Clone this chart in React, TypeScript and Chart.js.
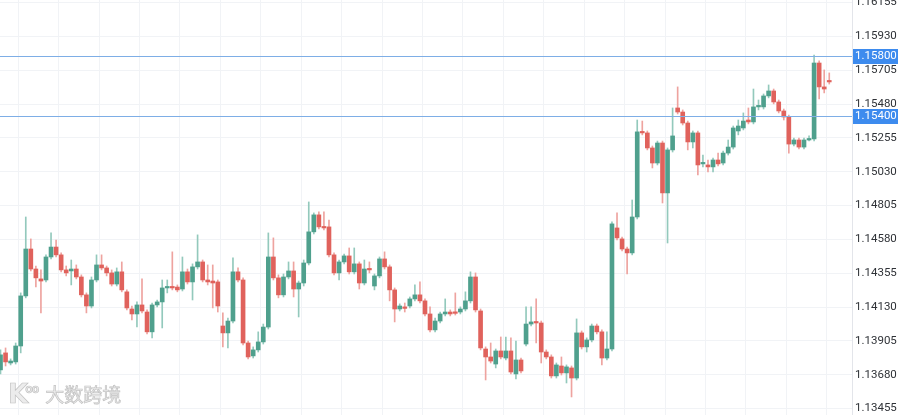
import React, { useEffect, useRef } from "react";
import { Chart, registerables } from "chart.js";

Chart.register(...registerables);

// EUR/USD-like candles (oldest -> newest)
const OPEN = [
  1.13712, 1.13825, 1.13758, 1.13765, 1.13871, 1.14204, 1.14516, 1.14383, 1.14317, 1.14310,
  1.14463, 1.14529, 1.14477, 1.14377, 1.14370, 1.14383, 1.14330, 1.14211, 1.14137, 1.14310,
  1.14410, 1.14390, 1.14357, 1.14283, 1.14364, 1.14231, 1.14117, 1.14084, 1.14144, 1.14097,
  1.13965, 1.14144, 1.14164, 1.14257, 1.14263, 1.14263, 1.14250, 1.14364, 1.14297, 1.14397,
  1.14430, 1.14310, 1.14303, 1.14297, 1.14004, 1.13958, 1.14037, 1.14364, 1.14310, 1.13891,
  1.13805, 1.13845, 1.13898, 1.13997, 1.14463, 1.14324, 1.14211, 1.14330, 1.14370, 1.14250,
  1.14290, 1.14423, 1.14630, 1.14743, 1.14663, 1.14663, 1.14477, 1.14357, 1.14430, 1.14470,
  1.14364, 1.14417, 1.14290, 1.14383, 1.14270, 1.14337, 1.14450, 1.14397, 1.14244, 1.14117,
  1.14124, 1.14137, 1.14184, 1.14211, 1.14171, 1.14084, 1.13978, 1.14037, 1.14084, 1.14097,
  1.14091, 1.14097, 1.14117, 1.14171, 1.14330, 1.14104, 1.13851, 1.13798, 1.13751, 1.13838,
  1.13791, 1.13838, 1.13685, 1.13778, 1.13884, 1.14017, 1.14031, 1.14024, 1.13831, 1.13798,
  1.13672, 1.13738, 1.13692, 1.13725, 1.13658, 1.13958, 1.13865, 1.13911, 1.14004, 1.13965,
  1.13791, 1.13851, 1.14656, 1.14583, 1.14516, 1.14490, 1.14729, 1.15295, 1.15288, 1.15188,
  1.15088, 1.15221, 1.14889, 1.15175, 1.15454, 1.15427, 1.15354, 1.15228, 1.15288, 1.15082,
  1.15075, 1.15062, 1.15108, 1.15088, 1.15154, 1.15194, 1.15301, 1.15321, 1.15374, 1.15361,
  1.15461, 1.15461, 1.15534, 1.15567, 1.15494, 1.15434, 1.15394, 1.15214, 1.15241, 1.15194,
  1.15241, 1.15248, 1.15753, 1.15594, 1.15633,
];

const HIGH = [
  1.13845, 1.13858, 1.13785, 1.13891, 1.14224, 1.14729, 1.14583, 1.14403, 1.14377, 1.14477,
  1.14623, 1.14576, 1.14490, 1.14403, 1.14443, 1.14410, 1.14344, 1.14224, 1.14330, 1.14477,
  1.14477, 1.14403, 1.14377, 1.14390, 1.14430, 1.14244, 1.14137, 1.14164, 1.14317, 1.14111,
  1.14157, 1.14177, 1.14310, 1.14310, 1.14497, 1.14277, 1.14463, 1.14383, 1.14417, 1.14610,
  1.14443, 1.14410, 1.14410, 1.14310, 1.14091, 1.14057, 1.14457, 1.14390, 1.14324, 1.13904,
  1.13865, 1.13965, 1.14017, 1.14623, 1.14590, 1.14344, 1.14350, 1.14430, 1.14430, 1.14303,
  1.14443, 1.14829, 1.14756, 1.14763, 1.14763, 1.14709, 1.14490, 1.14443, 1.14483, 1.14523,
  1.14523, 1.14430, 1.14443, 1.14430, 1.14350, 1.14463, 1.14497, 1.14410, 1.14257, 1.14151,
  1.14157, 1.14197, 1.14277, 1.14297, 1.14184, 1.14131, 1.14057, 1.14097, 1.14184, 1.14111,
  1.14224, 1.14131, 1.14231, 1.14364, 1.14357, 1.14117, 1.13865, 1.13891, 1.13851, 1.13931,
  1.13931, 1.13925, 1.13904, 1.13791, 1.14131, 1.14131, 1.14184, 1.14037, 1.13845, 1.13812,
  1.13758, 1.13798, 1.13745, 1.13738, 1.14051, 1.13971, 1.13925, 1.14017, 1.14017, 1.13978,
  1.13965, 1.14696, 1.14756, 1.14596, 1.14529, 1.14842, 1.15374, 1.15367, 1.15301, 1.15201,
  1.15234, 1.15234, 1.15188, 1.15454, 1.15594, 1.15441, 1.15367, 1.15301, 1.15301, 1.15141,
  1.15108, 1.15121, 1.15154, 1.15168, 1.15241, 1.15334, 1.15374, 1.15421, 1.15454, 1.15580,
  1.15507, 1.15547, 1.15607, 1.15580, 1.15507, 1.15447, 1.15407, 1.15254, 1.15254, 1.15254,
  1.15268, 1.15806, 1.15767, 1.15707, 1.15687,
];

const LOW = [
  1.13685, 1.13738, 1.13745, 1.13751, 1.13825, 1.14191, 1.14370, 1.14263, 1.14091, 1.14297,
  1.14450, 1.14463, 1.14364, 1.14337, 1.14277, 1.14317, 1.14197, 1.14091, 1.14124, 1.14297,
  1.14377, 1.14337, 1.14270, 1.14270, 1.14231, 1.14111, 1.14044, 1.13997, 1.14091, 1.13951,
  1.13925, 1.14131, 1.13991, 1.14224, 1.14244, 1.14231, 1.14237, 1.14283, 1.14177, 1.14383,
  1.14297, 1.14277, 1.14124, 1.14097, 1.13865, 1.13858, 1.14024, 1.14297, 1.13878, 1.13785,
  1.13791, 1.13831, 1.13884, 1.13984, 1.14310, 1.14191, 1.14197, 1.14317, 1.14197, 1.14064,
  1.14270, 1.14410, 1.14616, 1.14650, 1.14643, 1.14463, 1.14344, 1.14310, 1.14417, 1.14350,
  1.14350, 1.14250, 1.14277, 1.14357, 1.14244, 1.14324, 1.14383, 1.14171, 1.14031, 1.14104,
  1.14097, 1.14124, 1.14171, 1.14157, 1.14071, 1.13965, 1.13965, 1.14024, 1.14071, 1.14071,
  1.14077, 1.14084, 1.14104, 1.14157, 1.14097, 1.13845, 1.13645, 1.13758, 1.13725, 1.13785,
  1.13778, 1.13685, 1.13652, 1.13692, 1.13871, 1.14004, 1.13891, 1.13758, 1.13785, 1.13658,
  1.13658, 1.13678, 1.13625, 1.13532, 1.13645, 1.13851, 1.13831, 1.13898, 1.13951, 1.13745,
  1.13778, 1.13838, 1.14576, 1.14503, 1.14350, 1.14477, 1.14716, 1.15275, 1.15175, 1.15055,
  1.15075, 1.14822, 1.14556, 1.15161, 1.15414, 1.15341, 1.15175, 1.15188, 1.15009, 1.15062,
  1.15028, 1.15028, 1.15068, 1.15075, 1.15141, 1.15181, 1.15275, 1.15308, 1.15348, 1.15348,
  1.15441, 1.15447, 1.15521, 1.15481, 1.15421, 1.15374, 1.15154, 1.15201, 1.15181, 1.15181,
  1.15234, 1.15234, 1.15514, 1.15554, 1.15613,
];

const CLOSE = [
  1.13812, 1.13765, 1.13771, 1.13871, 1.14204, 1.14516, 1.14383, 1.14324, 1.14303, 1.14463,
  1.14529, 1.14477, 1.14377, 1.14357, 1.14383, 1.14330, 1.14211, 1.14137, 1.14310, 1.14410,
  1.14390, 1.14357, 1.14283, 1.14364, 1.14244, 1.14124, 1.14084, 1.14144, 1.14104, 1.13965,
  1.14144, 1.14164, 1.14257, 1.14263, 1.14257, 1.14244, 1.14364, 1.14297, 1.14397, 1.14430,
  1.14310, 1.14297, 1.14290, 1.14137, 1.13958, 1.14037, 1.14364, 1.14310, 1.13891, 1.13798,
  1.13845, 1.13898, 1.13997, 1.14463, 1.14324, 1.14211, 1.14330, 1.14370, 1.14250, 1.14290,
  1.14423, 1.14630, 1.14743, 1.14663, 1.14656, 1.14477, 1.14357, 1.14430, 1.14470, 1.14364,
  1.14417, 1.14290, 1.14383, 1.14377, 1.14337, 1.14450, 1.14397, 1.14244, 1.14117, 1.14137,
  1.14121, 1.14184, 1.14211, 1.14171, 1.14084, 1.13978, 1.14037, 1.14084, 1.14097, 1.14084,
  1.14088, 1.14117, 1.14171, 1.14330, 1.14111, 1.13858, 1.13798, 1.13771, 1.13838, 1.13798,
  1.13838, 1.13698, 1.13778, 1.13705, 1.14017, 1.14031, 1.14024, 1.13831, 1.13798, 1.13672,
  1.13745, 1.13692, 1.13732, 1.13658, 1.13958, 1.13865, 1.13911, 1.14004, 1.13965, 1.13791,
  1.13851, 1.14683, 1.14590, 1.14516, 1.14490, 1.14729, 1.15295, 1.15288, 1.15188, 1.15088,
  1.15221, 1.14889, 1.15175, 1.15268, 1.15427, 1.15354, 1.15228, 1.15288, 1.15075, 1.15088,
  1.15062, 1.15108, 1.15082, 1.15154, 1.15194, 1.15321, 1.15334, 1.15367, 1.15361, 1.15461,
  1.15467, 1.15534, 1.15567, 1.15494, 1.15434, 1.15394, 1.15214, 1.15241, 1.15194, 1.15241,
  1.15248, 1.15753, 1.15594, 1.15580, 1.15627,
];

const Y_TICKS = [
  1.16155, 1.1593, 1.15705, 1.1548, 1.15255, 1.1503, 1.14805,
  1.1458, 1.14355, 1.1413, 1.13905, 1.1368, 1.13455,
];

const X_GRID = [
  3.5, 11.5, 19.5, 27.5, 35.5, 43.5, 51.5, 59.5, 67.5, 75.5, 83.5,
  91.5, 99.5, 107.5, 115.5, 123.5, 131.5, 139.5, 147.5, 155.5, 163.5,
];

const PRICE_LINES = [1.158, 1.154];

const UP = "#4fa08d";
const DOWN = "#e0625c";
const UP_WICK = "#93c9bc";
const DOWN_WICK = "#eea39f";
const LINE_BLUE = "#7eaee6";
const BOX_BLUE = "#3d8bee";
const FONT = "Roboto, 'Liberation Sans', sans-serif";

const priceLinePlugin = {
  id: "priceLines",
  afterDatasetsDraw(chart: any) {
    const { ctx, chartArea, scales } = chart;
    const y = scales.y;
    ctx.save();
    PRICE_LINES.forEach((v) => {
      const py = Math.round(y.getPixelForValue(v)) + 0.5;
      ctx.strokeStyle = LINE_BLUE;
      ctx.lineWidth = 1;
      ctx.beginPath();
      ctx.moveTo(chartArea.left, py);
      ctx.lineTo(chartArea.right, py);
      ctx.stroke();
    });
    ctx.restore();
  },
  afterDraw(chart: any) {
    const { ctx, chartArea, scales } = chart;
    const y = scales.y;
    ctx.save();
    PRICE_LINES.forEach((v) => {
      const py = Math.round(y.getPixelForValue(v));
      ctx.fillStyle = BOX_BLUE;
      ctx.fillRect(chartArea.right + 1, py - 7, 45, 15);
      ctx.fillStyle = "#ffffff";
      ctx.font = `11.5px ${FONT}`;
      ctx.textBaseline = "middle";
      ctx.textAlign = "left";
      ctx.fillText(v.toFixed(5), chartArea.right + 3, py + 0.5);
    });
    ctx.restore();
  },
};

export default function App() {
  const canvasRef = useRef<HTMLCanvasElement | null>(null);

  useEffect(() => {
    document.body.style.margin = "0";
    const canvas = canvasRef.current;
    if (!canvas) return;
    const idx = OPEN.map((_, i) => i);
    const up = idx.map((i) => CLOSE[i] >= OPEN[i]);

    const chart = new Chart(canvas, {
      type: "bar",
      data: {
        datasets: [
          {
            label: "wick",
            data: idx.map((i) => ({ x: i, y: [LOW[i], HIGH[i]] })) as any,
            backgroundColor: idx.map((i) => (up[i] ? UP_WICK : DOWN_WICK)),
            barThickness: 1,
            grouped: false,
            minBarLength: 1,
            borderSkipped: false,
            order: 2,
          } as any,
          {
            label: "body",
            data: idx.map((i) => ({ x: i, y: [OPEN[i], CLOSE[i]] })) as any,
            backgroundColor: idx.map((i) => (up[i] ? UP : DOWN)),
            barThickness: 4,
            grouped: false,
            minBarLength: 1.5,
            borderSkipped: false,
            order: 1,
          } as any,
        ],
      },
      options: {
        animation: false,
        responsive: true,
        maintainAspectRatio: false,
        events: [],
        layout: { padding: 0 },
        plugins: {
          legend: { display: false },
          tooltip: { enabled: false },
        },
        scales: {
          x: {
            type: "linear",
            min: -0.1,
            max: 168.5,
            offset: false,
            grid: { color: "#f1f3f6", drawTicks: false, offset: false },
            border: { display: false },
            ticks: { display: false },
            afterBuildTicks: (axis: any) => {
              axis.ticks = X_GRID.map((v) => ({ value: v }));
            },
            afterFit: (s: any) => {
              s.height = 0;
              s.paddingLeft = 0;
              s.paddingRight = 0;
              s.paddingTop = 0;
              s.paddingBottom = 0;
            },
          },
          y: {
            type: "linear",
            position: "right",
            min: 1.13412,
            max: 1.16172,
            grid: { color: "#f1f3f6", drawTicks: false },
            border: { display: true, color: "#e3e5ea" },
            ticks: {
              padding: 3,
              color: "#2f3237",
              font: { family: FONT, size: 11.5 },
              autoSkip: false,
              callback: (v: any) => Number(v).toFixed(5),
            },
            afterBuildTicks: (axis: any) => {
              axis.ticks = Y_TICKS.map((v) => ({ value: v }));
            },
            afterFit: (s: any) => {
              s.width = 48;
              s.paddingTop = 0;
              s.paddingBottom = 0;
              s.paddingLeft = 0;
              s.paddingRight = 0;
            },
          },
        } as any,
      },
      plugins: [priceLinePlugin],
    });

    return () => chart.destroy();
  }, []);

  return (
    <div style={{ position: "relative", width: 900, height: 415, background: "#fff", overflow: "hidden" }}>
      <canvas ref={canvasRef} />
      <div
        style={{
          position: "absolute",
          left: 8,
          top: 382,
          display: "flex",
          alignItems: "center",
          color: "#ececec",
          WebkitTextStroke: "0.7px #c3c3c3",
          fontFamily: "'Noto Sans CJK SC', sans-serif",
          pointerEvents: "none",
          whiteSpace: "nowrap",
        }}
      >
        <span style={{ fontSize: 26, fontWeight: 700, lineHeight: "24px", fontFamily: "'DejaVu Sans', sans-serif" }}>K</span>
        <span style={{ fontSize: 12, fontWeight: 700, lineHeight: "11px", alignSelf: "flex-start", marginLeft: -3, letterSpacing: -1 }}>oo</span>
        <span style={{ fontSize: 19, lineHeight: "24px", marginLeft: 7, letterSpacing: 0 }}>大数跨境</span>
      </div>
    </div>
  );
}
